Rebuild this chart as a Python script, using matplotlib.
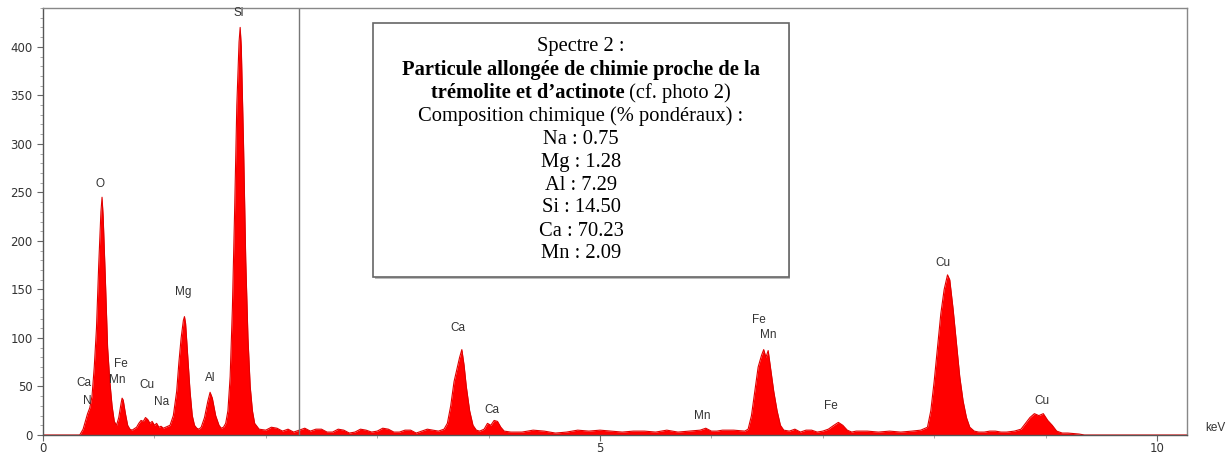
import matplotlib
matplotlib.use('Agg')
import numpy as np
from matplotlib import pyplot as plt
from matplotlib.patches import Rectangle

# EDS spectrum (keV, counts)
energy = [0.00, 0.33, 0.36, 0.38, 0.40, 0.42, 0.44, 0.46, 0.48, 0.50, 0.52, 0.53, 0.54, 0.56, 0.58,
          0.60, 0.62, 0.64, 0.66, 0.68, 0.70, 0.71, 0.72, 0.74, 0.76, 0.78, 0.80, 0.84, 0.86, 0.88,
          0.90, 0.92, 0.94, 0.96, 0.98, 1.00, 1.02, 1.04, 1.06, 1.08, 1.10, 1.14, 1.17, 1.20, 1.22,
          1.24, 1.26, 1.27, 1.28, 1.30, 1.32, 1.34, 1.36, 1.38, 1.40, 1.42, 1.45, 1.48, 1.50, 1.52,
          1.55, 1.58, 1.60, 1.62, 1.64, 1.66, 1.68, 1.70, 1.72, 1.74, 1.76, 1.77, 1.78, 1.80, 1.82,
          1.84, 1.86, 1.88, 1.90, 1.94, 2.00, 2.05, 2.10, 2.15, 2.20, 2.25, 2.30, 2.35, 2.40, 2.45,
          2.50, 2.55, 2.60, 2.65, 2.70, 2.75, 2.80, 2.85, 2.90, 2.95, 3.00, 3.05, 3.10, 3.15, 3.20,
          3.25, 3.30, 3.35, 3.40, 3.45, 3.50, 3.55, 3.60, 3.63, 3.66, 3.69, 3.72, 3.74, 3.76, 3.78,
          3.80, 3.83, 3.86, 3.89, 3.92, 3.96, 3.99, 4.02, 4.05, 4.08, 4.11, 4.14, 4.20, 4.30, 4.40,
          4.50, 4.60, 4.70, 4.80, 4.90, 5.00, 5.10, 5.20, 5.30, 5.40, 5.50, 5.60, 5.70, 5.80, 5.90,
          5.95, 6.00, 6.05, 6.10, 6.20, 6.30, 6.33, 6.36, 6.39, 6.42, 6.45, 6.47, 6.49, 6.51, 6.53,
          6.56, 6.59, 6.62, 6.65, 6.70, 6.75, 6.80, 6.85, 6.90, 6.95, 7.00, 7.05, 7.10, 7.14, 7.18,
          7.22, 7.26, 7.30, 7.40, 7.50, 7.60, 7.70, 7.80, 7.88, 7.94, 7.97, 8.00, 8.03, 8.06, 8.09,
          8.12, 8.14, 8.17, 8.20, 8.23, 8.26, 8.29, 8.32, 8.36, 8.40, 8.45, 8.50, 8.55, 8.60, 8.65,
          8.72, 8.78, 8.82, 8.86, 8.90, 8.94, 8.98, 9.02, 9.06, 9.10, 9.15, 9.20, 9.30, 9.35, 10.27]
counts = [0, 0, 6, 14, 22, 28, 40, 70, 110, 175, 230, 245, 225, 160, 90,
          55, 30, 14, 10, 18, 32, 38, 36, 22, 10, 6, 5, 8, 12, 15,
          14, 18, 16, 12, 14, 10, 12, 8, 9, 7, 8, 10, 20, 45, 75,
          100, 118, 122, 115, 80, 45, 20, 10, 7, 6, 8, 18, 35, 44, 38,
          20, 10, 7, 8, 12, 25, 60, 130, 230, 340, 405, 420, 400, 300, 180,
          100, 50, 25, 12, 6, 5, 8, 7, 4, 6, 3, 5, 7, 4, 6,
          6, 3, 3, 6, 5, 2, 3, 6, 5, 3, 4, 7, 6, 3, 3,
          5, 5, 2, 4, 6, 5, 4, 6, 12, 30, 55, 70, 80, 88, 72,
          50, 25, 10, 5, 4, 6, 12, 10, 15, 14, 8, 4, 3, 3, 5,
          4, 2, 3, 5, 4, 5, 4, 3, 4, 4, 3, 5, 3, 4, 5,
          7, 4, 4, 5, 5, 4, 6, 20, 45, 70, 82, 88, 80, 87, 70,
          45, 25, 10, 5, 4, 6, 3, 5, 5, 3, 4, 6, 10, 13, 10,
          5, 3, 4, 4, 3, 4, 3, 4, 5, 8, 25, 55, 90, 125, 150,
          165, 160, 130, 95, 60, 35, 18, 8, 4, 3, 3, 4, 4, 3, 3,
          4, 6, 12, 18, 22, 20, 22, 15, 10, 4, 2, 2, 1, 0, 0]

# peak labels (text, keV, counts)
labels = ['Ca', 'N', 'O', 'Fe', 'Mn', 'Cu', 'Na', 'Mg', 'Al', 'Si',
          'Ca', 'Ca', 'Mn', 'Fe', 'Mn', 'Fe', 'Cu', 'Cu']
label_e = [0.37, 0.40, 0.51, 0.70, 0.67, 0.93, 1.06, 1.26, 1.50, 1.76,
           3.72, 4.03, 5.92, 6.43, 6.51, 7.07, 8.08, 8.97]
label_c = [47, 29, 252, 67, 51, 45, 28, 141, 53, 429,
           104, 20, 13, 112, 97, 24, 171, 29]

marker_e = 2.30

box_lines = ['Spectre 2 :',
             'Particule allongée de chimie proche de la',
             None,
             'Composition chimique (% pondéraux) :',
             'Na : 0.75', 'Mg : 1.28', 'Al : 7.29', 'Si : 14.50',
             'Ca : 70.23', 'Mn : 2.09']

W, H = 1228, 457
fig = plt.figure(figsize=(W / 100, H / 100), dpi=100)
ax = fig.add_axes([43 / W, 22 / H, (1187 - 43) / W, (435 - 8) / H])

ax.fill_between(energy, counts, 0, color='#ff0000', linewidth=0)
ax.plot(energy, counts, color='#e00000', linewidth=0.8)
ax.axvline(marker_e, color='#777777', linewidth=1)

ax.set_xlim(0, 10.27)
ax.set_ylim(0, 440)
ax.set_xticks([0, 5, 10])
ax.set_xticks(np.arange(0, 10.5, 1), minor=True)
ax.set_yticks(np.arange(0, 401, 50))
ax.set_yticks(np.arange(0, 441, 10), minor=True)
ax.tick_params(axis='both', which='major', labelsize=8.5, labelcolor='#333333',
               color='#666666', length=4, width=0.8)
ax.tick_params(axis='both', which='minor', color='#999999', length=2, width=0.6)
ax.tick_params(axis='x', pad=1)
for s in ax.spines.values():
    s.set_color('#888888')
    s.set_linewidth(1)
ax.spines['left'].set_color('#555555')
ax.spines['bottom'].set_color('#555555')

for t, e, c in zip(labels, label_e, label_c):
    ax.text(e, c, t, fontsize=8.5, color='#333333', ha='center', va='bottom',
            family='Liberation Sans')

fig.text(1205 / W, 1 - 428 / H, 'keV', fontsize=8.5, color='#333333',
         ha='left', va='center', family='Liberation Sans')

# annotation box
x0, x1, yt, yb = 373 / W, 789 / W, 1 - 23 / H, 1 - 277 / H
fig.patches.append(Rectangle((x0 + 1.5 / W, yb - 1.5 / H), x1 - x0, yt - yb,
                             transform=fig.transFigure, facecolor='#bbbbbb',
                             edgecolor='none', zorder=4))
fig.patches.append(Rectangle((x0, yb), x1 - x0, yt - yb, transform=fig.transFigure,
                             facecolor='white', edgecolor='#666666', linewidth=1.2,
                             zorder=5))
xc = (x0 + x1) / 2
line_y = [47, 70, 93, 116, 139, 162, 185, 208, 231, 254]
fs = 14.8
for txt, py in zip(box_lines, line_y):
    if txt is None:
        continue
    bold = txt.startswith('Particule')
    fig.text(xc, 1 - py / H, txt, fontsize=fs, ha='center', va='center',
             family='Liberation Serif', fontweight='bold' if bold else 'normal',
             zorder=6)

# mixed bold / regular line
r = fig.canvas.get_renderer()
ya = 1 - line_y[2] / H
ta = fig.text(0, ya, 'trémolite et d\u2019actinote', fontsize=fs, fontweight='bold',
              family='Liberation Serif', ha='left', va='center', zorder=6)
tb = fig.text(0, ya, ' (cf. photo 2)', fontsize=fs, family='Liberation Serif',
              ha='left', va='center', zorder=6)
wa = ta.get_window_extent(r).width / W
wb = tb.get_window_extent(r).width / W
ta.set_x(xc - (wa + wb) / 2)
tb.set_x(xc - (wa + wb) / 2 + wa)

fig.savefig('out.png', dpi=100)
